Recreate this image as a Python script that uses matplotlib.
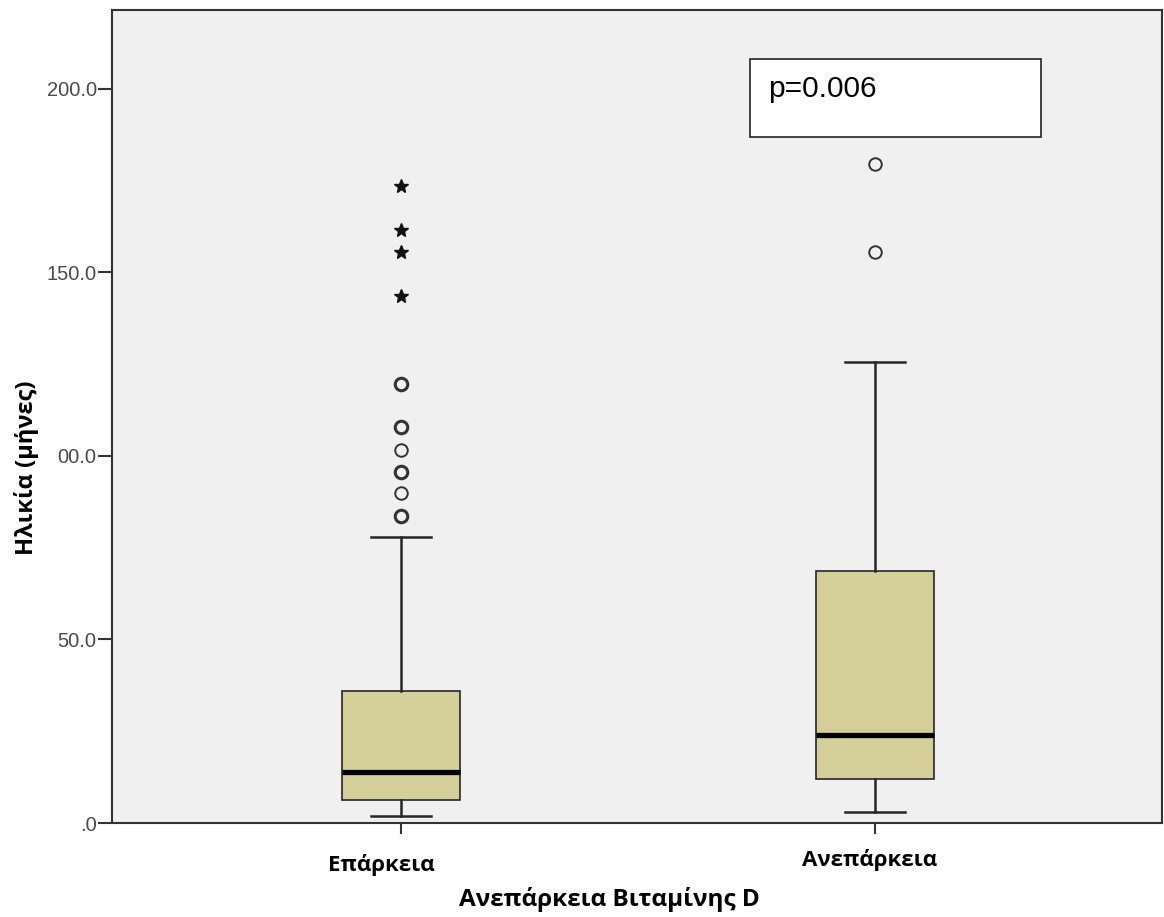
import matplotlib.pyplot as plt
from matplotlib.patches import Rectangle
from matplotlib.transforms import ScaledTranslation

plt.rcParams['font.family'] = ['Open Sans', 'DejaVu Sans']

# Summary values for the two groups (months of age)
groups = ['Επάρκεια', 'Ανεπάρκεια']
medians = [13.9, 23.9]
q1 = [6.3, 11.9]
q3 = [36.0, 68.7]
whisker_low = [1.9, 2.9]
whisker_high = [77.9, 125.7]

# outliers (circles) and extreme values (stars)
outliers = [[119.6, 107.8, 101.6, 95.7, 89.8, 83.7], [179.5, 155.6]]
outlier_bold = [[True, True, False, True, False, True], [False, False]]
extremes = [[173.6, 161.6, 155.5, 143.7], []]

y_ticks = [0, 50, 100, 150, 200]
y_tick_labels = ['.0', '50.0', '00.0', '150.0', '200.0']
p_text = 'p=0.006'

fig = plt.figure(figsize=(11.64, 9.17), dpi=100)
ax = fig.add_axes([0.0962, 0.1025, 0.9021, 0.8866])
ax.set_facecolor('#f0f0f0')

stats = []
for i in range(len(groups)):
    stats.append(dict(med=medians[i], q1=q1[i], q3=q3[i],
                      whislo=whisker_low[i], whishi=whisker_high[i],
                      fliers=[]))

positions = [1, 2]
edge = '#262626'
ax.bxp(stats, positions=positions, widths=0.249, capwidths=0.127,
       showfliers=False, patch_artist=True,
       boxprops=dict(facecolor='#d4cf98', edgecolor=edge, linewidth=1.2),
       medianprops=dict(color='black', linewidth=3.8, solid_capstyle='butt'),
       whiskerprops=dict(color=edge, linewidth=1.8),
       capprops=dict(color=edge, linewidth=1.8))

for pos, vals, bold in zip(positions, outliers, outlier_bold):
    for v, b in zip(vals, bold):
        ax.plot(pos, v, marker='o', ms=9, mfc='none', mec='#333333',
                mew=2.2 if b else 1.4, linestyle='none', zorder=3)

for pos, vals in zip(positions, extremes):
    ax.plot([pos] * len(vals), vals, marker='*', ms=10, color='#111111',
            linestyle='none', zorder=3)

ax.set_xlim(0.3903, 2.6055)
ax.set_ylim(0, 221.5)

ax.set_yticks(y_ticks)
ax.set_yticklabels(y_tick_labels, family='Liberation Sans', fontsize=14.5,
                   color='#4a4a4a')
ax.tick_params(axis='y', length=10, width=1.5, color='#333333', pad=1)

ax.set_xticks(positions)
ax.set_xticklabels(groups, fontsize=16, fontweight='bold')
ax.tick_params(axis='x', length=8, width=1.5, color='#333333', pad=14)
# first category label sits a little left of its tick
lbl = ax.get_xticklabels()[0]
lbl.set_transform(lbl.get_transform()
                  + ScaledTranslation(-0.2, 0, fig.dpi_scale_trans))
lbl2 = ax.get_xticklabels()[1]
lbl2.set_transform(lbl2.get_transform()
                   + ScaledTranslation(-0.05, 0.05, fig.dpi_scale_trans))

for s in ax.spines.values():
    s.set_color('#333333')
    s.set_linewidth(1.5)

# p-value box
ax.add_patch(Rectangle((0.6076, 0.8438), 0.277, 0.0959, transform=ax.transAxes,
                       facecolor='white', edgecolor='#222222', linewidth=1.2,
                       zorder=4))
ax.text(0.625, 0.893, p_text, transform=ax.transAxes, fontsize=21.5,
        family='Liberation Sans', va='baseline', ha='left', zorder=5)

fig.text(27 / 1164, 1 - 468 / 917, 'Ηλικία (μήνες)', rotation=90,
         ha='center', va='center', fontsize=17, fontweight='bold')
fig.text(609 / 1164, 1 - 900 / 917, 'Ανεπάρκεια Βιταμίνης D',
         ha='center', va='center', fontsize=17.5, fontweight='bold')

fig.savefig('out.png', dpi=100, facecolor='white')
